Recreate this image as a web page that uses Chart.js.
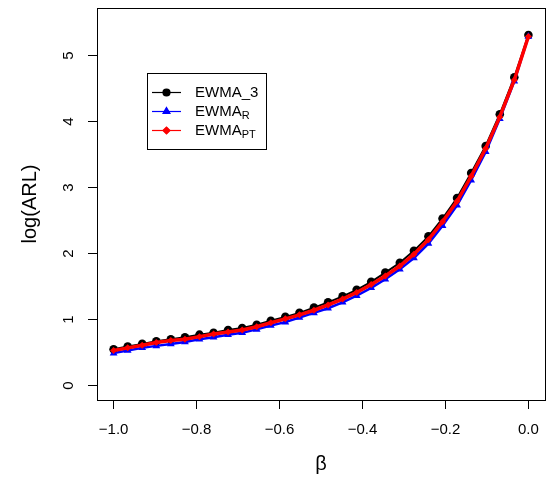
<!DOCTYPE html>
<html>
<head>
<meta charset="utf-8">
<script src="https://cdn.jsdelivr.net/npm/chart.js@4/dist/chart.umd.min.js"></script>
<style>
  body { margin: 0; background: #ffffff; }
  canvas { display: block; }
</style>
</head>
<body>
<canvas id="arlChart" width="551" height="481"></canvas>
<script>
// beta values (x)
const beta = [-1.000, -0.966, -0.931, -0.897, -0.862, -0.828, -0.793, -0.759, -0.724, -0.690,
  -0.655, -0.621, -0.586, -0.552, -0.517, -0.483, -0.448, -0.414, -0.379, -0.345,
  -0.310, -0.276, -0.241, -0.207, -0.172, -0.138, -0.103, -0.069, -0.034, 0.000]

// log(ARL) per chart
const ewma3 = [0.55, 0.59, 0.63, 0.67, 0.70, 0.73, 0.77, 0.80, 0.84, 0.87,
  0.92, 0.98, 1.04, 1.10, 1.18, 1.26, 1.35, 1.45, 1.57, 1.71,
  1.86, 2.04, 2.26, 2.53, 2.84, 3.22, 3.63, 4.11, 4.67, 5.31]
const ewmaR = [0.49, 0.53, 0.57, 0.60, 0.63, 0.66, 0.70, 0.73, 0.77, 0.80,
  0.85, 0.91, 0.96, 1.03, 1.10, 1.17, 1.26, 1.36, 1.48, 1.61,
  1.76, 1.93, 2.15, 2.42, 2.73, 3.11, 3.54, 4.04, 4.61, 5.29]
const ewmaPT = [0.53, 0.57, 0.61, 0.65, 0.68, 0.70, 0.74, 0.78, 0.81, 0.84,
  0.89, 0.95, 1.01, 1.07, 1.14, 1.22, 1.31, 1.41, 1.53, 1.66,
  1.81, 1.99, 2.21, 2.48, 2.79, 3.17, 3.59, 4.07, 4.63, 5.29]

const xTicks = [-1.0, -0.8, -0.6, -0.4, -0.2, 0.0]
const yTicks = [0, 1, 2, 3, 4, 5]

const legendItems = [
  { main: 'EWMA_3', sub: '', color: '#000000', style: 'circle', radius: 3.5 },
  { main: 'EWMA', sub: 'R', color: '#0000ff', style: 'triangle', radius: 4 },
  { main: 'EWMA', sub: 'PT', color: '#ff0000', style: 'rectRot', radius: 3.5 }
]

const fmt = v => v.toFixed(1).replace('-', '\u2212')
const pts = ys => beta.map((b, i) => ({ x: b, y: ys[i] }))
const FONT = '"Liberation Sans", Arial, sans-serif'

// white bg + box + rotated y labels + legend
const rStyle = {
  id: 'rStyle',
  beforeDraw(chart) {
    const c = chart.ctx
    c.save()
    c.fillStyle = '#ffffff'
    c.fillRect(0, 0, chart.width, chart.height)
    c.restore()
  },
  afterDraw(chart) {
    const c = chart.ctx
    const a = chart.chartArea
    c.save()
    c.strokeStyle = '#000000'
    c.lineWidth = 1
    c.strokeRect(Math.round(a.left) + 0.5, Math.round(a.top) + 0.5,
      Math.round(a.right - a.left), Math.round(a.bottom - a.top))

    // y tick labels, rotated like R
    const ys = chart.scales.y
    c.fillStyle = '#000000'
    c.font = '15px ' + FONT
    c.textAlign = 'center'
    c.textBaseline = 'middle'
    yTicks.forEach(v => {
      c.save()
      c.translate(69, ys.getPixelForValue(v))
      c.rotate(-Math.PI / 2)
      c.fillText(String(v), 0, 0)
      c.restore()
    })

    // legend
    const lx = 147.5, ly = 73.5
    c.strokeRect(lx, ly, 119, 76)
    legendItems.forEach((it, i) => {
      const y = 92.5 + i * 19
      c.strokeStyle = it.color
      c.lineWidth = 1.2
      c.beginPath()
      c.moveTo(152, y)
      c.lineTo(181, y)
      c.stroke()
      Chart.helpers.drawPoint(c, { pointStyle: it.style, radius: it.radius, rotation: 0, borderWidth: 1 }, 166.5, y)
      c.fillStyle = it.color
      c.fill()
      c.fillStyle = '#000000'
      c.textAlign = 'left'
      c.font = '15px ' + FONT
      c.fillText(it.main, 195, y)
      if (it.sub) {
        const w = c.measureText(it.main).width
        c.font = '11px ' + FONT
        c.fillText(it.sub, 195 + w, y + 4)
      }
    })
    c.restore()
  }
}

const ctx = document.getElementById('arlChart').getContext('2d')

new Chart(ctx, {
  type: 'line',
  data: {
    datasets: [
      {
        label: 'EWMA_PT', data: pts(ewmaPT), order: 0,
        borderColor: '#ff0000', backgroundColor: '#ff0000', borderWidth: 3.5,
        pointStyle: 'rectRot', pointRadius: 3.5, pointBorderWidth: 0
      },
      {
        label: 'EWMA_R', data: pts(ewmaR), order: 1,
        borderColor: '#0000ff', backgroundColor: '#0000ff', borderWidth: 2.5,
        pointStyle: 'triangle', pointRadius: 4.5, pointBorderWidth: 0
      },
      {
        label: 'EWMA_3', data: pts(ewma3), order: 2,
        borderColor: '#000000', backgroundColor: '#000000', borderWidth: 2,
        pointStyle: 'circle', pointRadius: 4.3, pointBorderWidth: 0
      }
    ]
  },
  options: {
    responsive: false,
    animation: false,
    layout: { padding: { top: 8, right: 3, left: 0, bottom: 0 } },
    plugins: {
      legend: { display: false },
      tooltip: { enabled: false }
    },
    elements: { line: { tension: 0 } },
    scales: {
      x: {
        type: 'linear',
        min: -1.04,
        max: 0.04,
        afterBuildTicks: s => { s.ticks = xTicks.map(v => ({ value: v })) },
        afterFit: s => { s.height = 81 },
        border: { display: false },
        grid: { drawOnChartArea: false, drawTicks: true, tickLength: 9, color: '#000000', tickColor: '#000000' },
        ticks: {
          color: '#000000',
          padding: 12,
          maxRotation: 0,
          font: { family: FONT, size: 15 },
          callback: v => fmt(v)
        },
        title: {
          display: true,
          text: 'β',
          color: '#000000',
          font: { family: FONT, size: 20 },
          padding: { top: 0, bottom: 5 }
        }
      },
      y: {
        type: 'linear',
        min: -0.22,
        max: 5.72,
        afterBuildTicks: s => { s.ticks = yTicks.map(v => ({ value: v })) },
        afterFit: s => { s.width = 97 },
        border: { display: false },
        grid: { drawOnChartArea: false, drawTicks: true, tickLength: 9, color: '#000000', tickColor: '#000000' },
        ticks: { display: false },
        title: {
          display: true,
          text: 'log(ARL)',
          color: '#000000',
          font: { family: FONT, size: 20 },
          padding: { top: 18, bottom: 0 }
        }
      }
    }
  },
  plugins: [rStyle]
})
</script>
</body>
</html>
